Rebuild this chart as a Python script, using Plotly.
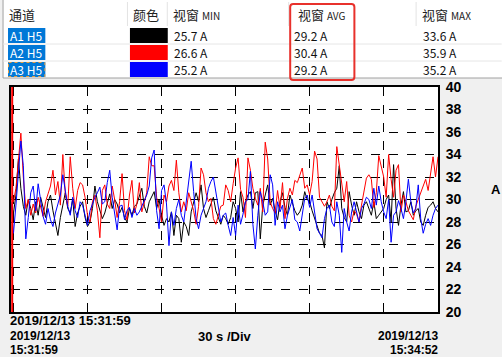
import plotly.graph_objects as go
import pandas as pd

# ---------------- data ----------------
channels = ["A1 H5", "A2 H5", "A3 H5"]
channel_colors = ["#000000", "#ff0000", "#0000ff"]
win_min = ["25.7 A", "26.6 A", "25.2 A"]
win_avg = ["29.2 A", "30.4 A", "29.2 A"]
win_max = ["33.6 A", "35.9 A", "35.2 A"]
headers = ["通道", "颜色", "视窗 MIN", "视窗 AVG", "视窗 MAX"]

start_time = "2019-12-13 15:31:59"
end_time = "2019-12-13 15:34:52"
grid_times = ["2019-12-13 15:32:00", "2019-12-13 15:32:30", "2019-12-13 15:33:00",
              "2019-12-13 15:33:30", "2019-12-13 15:34:00", "2019-12-13 15:34:30"]
y_ticks = [20, 22, 24, 26, 28, 30, 32, 34, 36, 38, 40]
start_label = "2019/12/13 15:31:59"
left_date, left_time = "2019/12/13", "15:31:59"
right_date, right_time = "2019/12/13", "15:34:52"
div_label = "30 s /Div"
unit_label = "A"

a1 = [29.6, 28.8, 30.4, 33.6, 31.0, 29.4, 28.6, 30.0, 29.2, 28.2,
      29.8, 28.6, 30.2, 29.4, 28.4, 29.8, 30.4, 29.0, 27.8, 26.8,
      28.4, 29.6, 30.6, 29.2, 28.8, 30.0, 27.6, 28.8, 29.4,
      29.8, 28.4, 27.6, 28.0, 29.2, 31.2, 29.8, 29.0, 28.3, 28.8,
      29.8, 30.5, 29.2, 30.0, 29.6, 28.8, 29.3, 28.4, 28.0, 29.2,
      28.6, 29.4, 29.6, 30.4, 31.0, 29.4, 28.8, 29.8, 30.2,
      30.7, 29.2, 30.0, 28.6, 27.7, 28.3, 28.0, 28.9, 26.8, 28.6,
      28.3, 26.2, 28.0, 27.6, 26.8, 28.9, 29.8, 30.6, 29.8, 31.3,
      29.2, 28.4, 29.0, 29.6, 30.2, 29.0, 28.4, 27.8, 28.6,
      28.3, 27.8, 28.4, 29.8, 29.2, 28.0, 30.7, 28.9, 29.8, 30.4,
      30.7, 29.2, 30.6, 30.7, 26.5, 29.5, 30.4, 31.3, 29.5, 30.1,
      29.0, 28.2, 29.8, 30.6, 29.3, 28.6, 30.4, 29.6, 29.0,
      28.6, 28.9, 29.5, 30.7, 30.0, 29.8, 29.0, 28.3, 27.8, 27.0,
      26.8, 25.7, 29.8, 29.2, 30.0, 30.6, 31.0, 33.0, 29.2, 28.4,
      28.0, 30.7, 29.5, 28.6, 29.8, 28.9, 28.3, 29.5, 29.8,
      29.2, 28.6, 29.8, 28.3, 28.6, 28.9, 29.2, 30.0, 30.4, 28.0,
      33.1, 29.2, 27.7, 29.5, 30.7, 28.9, 29.0, 29.8, 28.6, 29.0,
      29.2, 28.0, 27.7, 28.6, 29.3, 29.5, 29.8, 29.2, 28.9]

a2 = [30.3, 29.8, 31.0, 33.5, 35.9, 32.0, 29.2, 30.0, 28.6, 29.6,
      28.8, 30.2, 29.4, 28.5, 29.8, 30.6, 31.2, 32.6, 30.4, 31.6,
      29.5, 34.0, 30.5, 29.4, 33.8, 31.0, 29.2, 30.8, 31.5,
      31.3, 30.2, 28.6, 28.0, 29.8, 30.4, 29.0, 26.6, 30.8, 31.3,
      29.6, 29.2, 31.2, 30.0, 28.4, 29.8, 32.3, 29.0, 28.2, 30.4,
      31.7, 28.8, 29.6, 31.5, 28.9, 29.8, 30.6, 33.8, 33.0,
      33.0, 30.2, 29.2, 28.0, 30.4, 29.8, 31.2, 31.7, 30.8, 33.5,
      30.6, 28.9, 29.8, 29.0, 30.6, 29.9, 29.0, 27.8, 29.4, 32.8,
      32.2, 30.6, 29.8, 30.1, 28.3, 27.8, 28.6, 29.4, 29.5,
      31.3, 30.8, 29.8, 31.4, 32.8, 33.7, 30.9, 30.2, 28.4, 33.7,
      32.6, 31.0, 30.1, 29.5, 31.0, 28.9, 35.1, 33.6, 29.8, 29.2,
      28.8, 30.8, 29.2, 31.5, 28.3, 30.1, 31.0, 30.4, 31.7,
      31.5, 32.2, 32.8, 31.0, 31.3, 30.4, 31.6, 34.3, 33.6, 30.2,
      29.8, 29.4, 29.8, 30.4, 29.4, 29.0, 34.7, 33.0, 31.3, 29.8,
      31.6, 28.6, 28.0, 29.0, 28.7, 28.0, 29.5, 30.8, 31.9,
      32.2, 31.8, 29.3, 30.6, 33.9, 32.9, 32.0, 30.2, 34.0, 31.8,
      30.2, 32.6, 33.1, 28.9, 30.4, 29.8, 29.0, 28.6, 28.2, 29.4,
      30.0, 30.6, 31.2, 31.8, 30.8, 32.4, 33.8, 32.0, 33.8]

a3 = [29.8, 27.0, 29.5, 32.8, 35.2, 33.0, 26.5, 28.4, 30.6, 31.2,
      29.0, 31.4, 30.0, 28.5, 27.8, 29.2, 28.2, 27.6, 28.8, 29.6,
      30.4, 32.2, 30.8, 29.4, 28.6, 30.2, 29.0, 28.4, 29.8,
      29.5, 28.6, 27.7, 29.0, 29.6, 30.2, 30.6, 31.1, 29.6, 29.8,
      31.5, 32.6, 30.2, 28.6, 27.3, 29.4, 29.5, 28.2, 29.0, 29.3,
      28.4, 29.2, 28.6, 28.9, 29.4, 29.8, 30.4, 31.2, 33.7,
      34.4, 29.0, 27.4, 30.8, 31.3, 29.6, 25.9, 28.9, 27.7, 29.2,
      30.0, 28.6, 28.0, 29.8, 31.3, 33.4, 30.7, 28.3, 27.4, 28.6,
      29.2, 29.8, 31.0, 31.6, 32.0, 30.7, 29.2, 28.0, 28.6,
      28.8, 27.7, 26.8, 28.4, 26.8, 29.5, 27.8, 28.7, 29.8, 30.0,
      32.5, 27.8, 25.6, 28.6, 30.7, 29.8, 28.6, 28.9, 32.2, 31.3,
      27.7, 29.8, 28.9, 29.5, 27.4, 28.6, 29.4, 30.0, 28.2,
      28.0, 27.2, 28.9, 30.1, 30.4, 29.3, 30.4, 28.9, 27.4, 27.0,
      26.6, 28.3, 29.2, 29.5, 28.0, 27.6, 29.8, 28.6, 25.3, 29.2,
      28.0, 27.2, 28.9, 29.8, 29.0, 28.0, 29.2, 29.6, 30.2,
      30.0, 29.2, 31.0, 29.5, 31.2, 29.8, 28.9, 28.3, 30.0, 26.2,
      28.6, 28.9, 29.9, 29.2, 28.3, 29.8, 31.8, 29.8, 28.8, 29.2,
      31.3, 28.3, 27.0, 27.8, 28.3, 27.7, 28.6, 29.2, 29.5]

series = [a1, a2, a3]

# ---------------- geometry helpers ----------------
W, H = 502, 357
PL, PR, PT, PB = 9, 438, 87, 312


def PX(x):
    return (x - PL) / (PR - PL)


def PY(y):
    return (PB - y) / (PB - PT)


fig = go.Figure()
for name, col, vals in zip(channels, channel_colors, series):
    t = pd.date_range(start_time, periods=len(vals), freq="s")
    fig.add_trace(go.Scatter(x=t, y=vals, mode="lines", name=name,
                             line=dict(color=col, width=1), hoverinfo="skip"))

shapes = []
annotations = []

# red cursor at the left edge
shapes.append(dict(type="line", xref="paper", yref="paper", x0=PX(10.2), x1=PX(10.2),
                   y0=0, y1=1, line=dict(color="#ff0000", width=2)))

# table background
shapes.append(dict(type="rect", xref="paper", yref="paper", x0=PX(1), x1=PX(503),
                   y0=PY(-2), y1=PY(78), fillcolor="white",
                   line=dict(color="#a0a0a0", width=1)))
# header separators
for sx in [126, 166, 288, 416]:
    shapes.append(dict(type="line", xref="paper", yref="paper", x0=PX(sx), x1=PX(sx),
                       y0=PY(2), y1=PY(26), line=dict(color="#e3e3e3", width=1)))
# row separators
for sy in [44, 61]:
    shapes.append(dict(type="line", xref="paper", yref="paper", x0=PX(1), x1=PX(502),
                       y0=PY(sy), y1=PY(sy), line=dict(color="#e6e6e6", width=1)))

row_tops = [27.5, 44.5, 61.5]
for i, top in enumerate(row_tops):
    y0, y1 = top + 0.5, top + 15.5
    yc = (y0 + y1) / 2
    shapes.append(dict(type="rect", xref="paper", yref="paper", x0=PX(6), x1=PX(43.5),
                       y0=PY(y0), y1=PY(y1), fillcolor="#0078d7", line=dict(width=0)))
    shapes.append(dict(type="rect", xref="paper", yref="paper", x0=PX(128.5), x1=PX(166.5),
                       y0=PY(y0), y1=PY(y1), fillcolor=channel_colors[i], line=dict(width=0)))
    annotations.append(dict(x=PX(7), y=PY(yc), text=channels[i],
                            font=dict(family="Noto Sans CJK SC", size=12, color="white")))
    for xv, col in [(172, win_min), (292, win_avg), (422, win_max)]:
        annotations.append(dict(x=PX(xv), y=PY(yc), text=col[i],
                                font=dict(family="Noto Sans CJK SC", size=12, color="#111111")))
# focus rectangle on the last row label
shapes.append(dict(type="rect", xref="paper", yref="paper", x0=PX(6.5), x1=PX(43),
                   y0=PY(62.5), y1=PY(76.5), line=dict(color="#e8a040", width=1, dash="dot")))

# headers
hx = [6, 131, 171, 296, 421]
for txt, x in zip(headers, hx):
    parts = txt.split(" ")
    if len(parts) == 2:
        txt = parts[0] + " <span style='font-size:10px'>" + parts[1] + "</span>"
    annotations.append(dict(x=PX(x), y=PY(15), text=txt,
                            font=dict(family="Noto Sans CJK SC", size=13, color="#222222")))

# highlighted AVG column box (rounded)
bx0, bx1, by0, by1, r = 289.5, 354, 4, 80, 3


def P(x, y):
    return f"{PX(x):.6f},{PY(y):.6f}"


path = (f"M {P(bx0 + r, by0)} L {P(bx1 - r, by0)} Q {P(bx1, by0)} {P(bx1, by0 + r)} "
        f"L {P(bx1, by1 - r)} Q {P(bx1, by1)} {P(bx1 - r, by1)} "
        f"L {P(bx0 + r, by1)} Q {P(bx0, by1)} {P(bx0, by1 - r)} "
        f"L {P(bx0, by0 + r)} Q {P(bx0, by0)} {P(bx0 + r, by0)} Z")
shapes.append(dict(type="path", xref="paper", yref="paper", path=path,
                   line=dict(color="#e8312c", width=2)))

# bottom texts
bold = dict(family="Liberation Sans", size=13, color="black", weight="bold")
bold_s = dict(family="Liberation Sans", size=12, color="black", weight="bold")
annotations.append(dict(x=PX(7), y=PY(320), text=start_label, font=bold))
annotations.append(dict(x=PX(7), y=PY(335.5), text=left_date, font=bold_s))
annotations.append(dict(x=PX(7), y=PY(349.5), text=left_time, font=bold_s))
annotations.append(dict(x=PX(439), y=PY(335.5), text=right_date, font=bold_s, xanchor="right"))
annotations.append(dict(x=PX(439), y=PY(349.5), text=right_time, font=bold_s, xanchor="right"))
annotations.append(dict(x=PX(196), y=PY(336), text=div_label, font=bold))
annotations.append(dict(x=PX(490), y=PY(189), text=unit_label, font=bold))

for a in annotations:
    a.setdefault("xref", "paper")
    a.setdefault("yref", "paper")
    a.setdefault("showarrow", False)
    a.setdefault("xanchor", "left")
    a.setdefault("yanchor", "middle")
    a.setdefault("borderpad", 0)

fig.update_layout(
    width=W, height=H,
    margin=dict(l=PL, r=W - PR, t=PT, b=H - PB, pad=0),
    paper_bgcolor="#f0f0f0", plot_bgcolor="white",
    showlegend=False,
    shapes=shapes, annotations=annotations,
    xaxis=dict(type="date", range=[start_time, end_time], tickvals=grid_times,
               showticklabels=False, ticks="", showgrid=True, gridcolor="black",
               griddash="dash", gridwidth=1, showline=True, mirror=True,
               linecolor="black", linewidth=2, zeroline=False),
    yaxis=dict(range=[20, 40], tickvals=y_ticks, side="right", ticks="",
               showgrid=True, gridcolor="black", griddash="dash", gridwidth=1,
               showline=True, mirror=True, linecolor="black", linewidth=2,
               zeroline=False, ticklabelstandoff=3,
               tickfont=dict(family="Liberation Sans", size=14, color="black",
                             weight="bold")),
)

fig.write_html("out.html")
